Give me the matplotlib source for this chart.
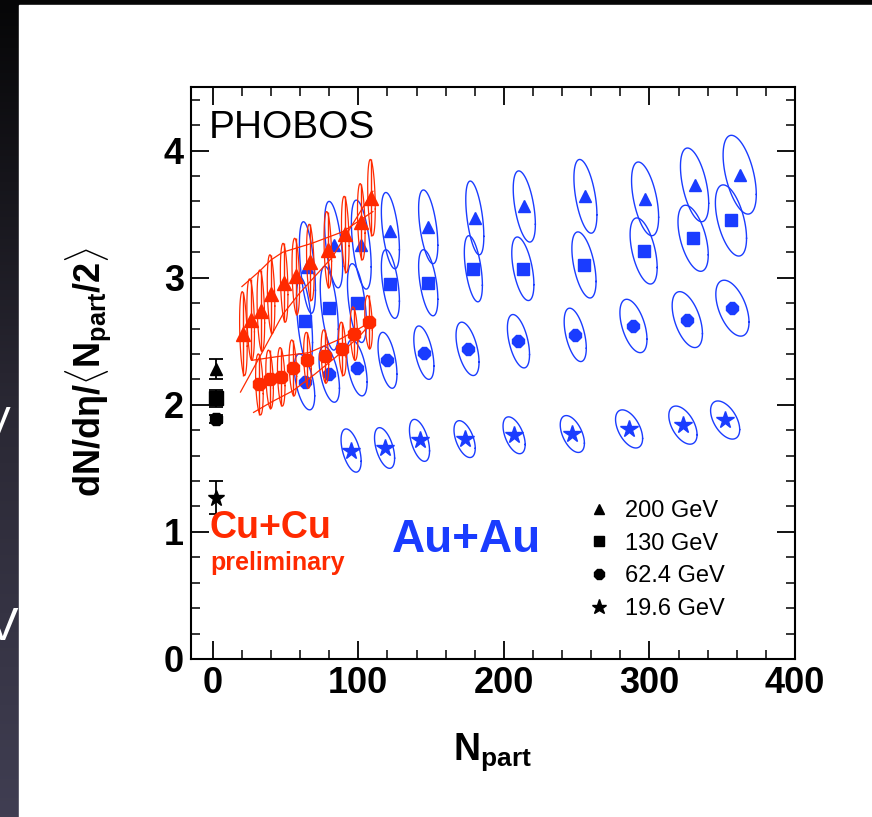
import matplotlib.pyplot as plt
import numpy as np
from matplotlib.colors import LinearSegmentedColormap
from matplotlib.lines import Line2D
from matplotlib.patches import Rectangle

plt.rcParams["font.family"] = ["Liberation Sans", "DejaVu Sans"]
plt.rcParams["mathtext.fontset"] = "custom"
plt.rcParams["mathtext.rm"] = "Liberation Sans"
plt.rcParams["mathtext.bf"] = "Liberation Sans:bold"
plt.rcParams["mathtext.it"] = "Liberation Sans:italic"

# --- Au+Au (PHOBOS): Npart, dN/deta/<Npart/2>, half sizes of the error ellipses ---
au200_npart = [65, 83, 102, 122, 148, 180, 214, 256, 297, 331, 362]
au200_val = [3.08, 3.26, 3.26, 3.37, 3.40, 3.47, 3.56, 3.64, 3.62, 3.73, 3.81]
au200_dn = [5.5, 6.2, 6.8, 6.2, 6.6, 6.2, 7.6, 7.9, 9.3, 9.7, 11.4]
au200_dv = [0.36, 0.34, 0.35, 0.30, 0.29, 0.29, 0.28, 0.29, 0.29, 0.29, 0.31]

au130_npart = [63, 80, 99, 122, 148, 179, 213, 255, 296, 330, 356]
au130_val = [2.66, 2.76, 2.80, 2.95, 2.96, 3.07, 3.07, 3.10, 3.21, 3.31, 3.45]
au130_dn = [5.5, 6.2, 6.5, 6.2, 6.6, 6.2, 7.6, 8.3, 9.3, 10.4, 10.7]
au130_dv = [0.34, 0.33, 0.31, 0.27, 0.26, 0.26, 0.25, 0.26, 0.26, 0.26, 0.28]

au62_npart = [63, 80, 99, 120, 145, 175, 210, 249, 289, 326, 357]
au62_val = [2.18, 2.24, 2.29, 2.35, 2.41, 2.44, 2.50, 2.55, 2.62, 2.67, 2.76]
au62_dn = [7.0, 7.0, 7.0, 6.5, 6.9, 7.9, 7.6, 7.6, 9.3, 10.4, 11.4]
au62_dv = [0.22, 0.22, 0.22, 0.22, 0.21, 0.21, 0.21, 0.21, 0.21, 0.22, 0.22]

au19_npart = [95, 118, 142, 173, 207, 247, 286, 323, 352]
au19_val = [1.64, 1.66, 1.72, 1.73, 1.76, 1.77, 1.81, 1.84, 1.88]
au19_dn = [6.9, 6.9, 6.9, 7.3, 7.6, 8.3, 9.3, 9.7, 10.0]
au19_dv = [0.17, 0.16, 0.165, 0.145, 0.145, 0.145, 0.15, 0.15, 0.15]

# --- Cu+Cu preliminary ---
cu200_npart = [21, 26, 33, 40, 49, 57, 67, 79, 91, 102, 109]
cu200_val = [2.56, 2.67, 2.74, 2.87, 2.96, 3.01, 3.12, 3.22, 3.34, 3.44, 3.63]
cu200_dv = [0.33, 0.32, 0.32, 0.31, 0.31, 0.30, 0.30, 0.30, 0.30, 0.30, 0.30]

cu62_npart = [32, 39, 47, 55, 65, 77, 89, 97, 107]
cu62_val = [2.16, 2.20, 2.22, 2.29, 2.35, 2.38, 2.44, 2.56, 2.65]
cu62_dv = [0.24, 0.23, 0.23, 0.22, 0.22, 0.21, 0.21, 0.21, 0.21]

# systematic band edges
cu200_hi_n = [20, 32, 40, 48, 68, 89, 110]
cu200_hi_v = [2.93, 3.05, 3.14, 3.20, 3.27, 3.36, 3.52]
cu200_lo_n = [19, 30, 48, 59, 82, 110]
cu200_lo_v = [2.10, 2.33, 2.71, 2.87, 3.16, 3.68]
cu62_hi_n = [27, 45, 66, 88, 110]
cu62_hi_v = [2.35, 2.38, 2.41, 2.52, 2.66]
cu62_lo_n = [28, 40, 55, 70, 85, 100, 110]
cu62_lo_v = [1.94, 2.02, 2.11, 2.24, 2.38, 2.53, 2.66]

# p+p / p+pbar references at Npart = 2
pp_npart = [2, 2, 2, 2]
pp_val = [2.28, 2.05, 1.89, 1.27]
pp_err = [0.08, 0.07, 0.03, 0.13]

energies = ["200 GeV", "130 GeV", "62.4 GeV", "19.6 GeV"]
markers = ["^", "s", "8", "*"]
msizes = [9, 9, 9, 13]

BLUE = "#1a3cff"
RED = "#ff2a00"

W, H = 872, 817


def px(x, y):
    return x / W, 1 - y / H


def corr_ellipse(ax, x0, y0, sx, sy, rho, **kw):
    t = np.linspace(0, 2 * np.pi, 80)
    xs = x0 + sx * np.cos(t)
    ys = y0 + sy * (rho * np.cos(t) + np.sqrt(1 - rho**2) * np.sin(t))
    ax.plot(xs, ys, **kw)


fig = plt.figure(figsize=(W / 100, H / 100), dpi=100)

# slide background: dark gradient with the white panel on top
bg = fig.add_axes([0, 0, 1, 1], zorder=-10)
grad = LinearSegmentedColormap.from_list("slide", ["#060607", "#2a2834", "#403e52"])
bg.imshow(np.linspace(0, 1, 256)[:, None], cmap=grad, aspect="auto", extent=[0, 1, 0, 1])
bg.text(-0.004, 1 - 425 / H, "V", color="white", fontsize=30, ha="center", va="center", zorder=2)
bg.text(0.003, 1 - 628 / H, "V", color="white", fontsize=34, ha="center", va="center", zorder=2)
bg.add_patch(Rectangle((19 / W, 0), 1, 1 - 5 / H, color="white", zorder=3))
bg.set_xlim(0, 1)
bg.set_ylim(0, 1)
bg.axis("off")

ax = fig.add_axes([191 / W, (H - 659) / H, 604 / W, 572 / H])
ax.set_facecolor("none")

# Au+Au ellipses and points
au_sets = [
    (au200_npart, au200_val, au200_dn, au200_dv),
    (au130_npart, au130_val, au130_dn, au130_dv),
    (au62_npart, au62_val, au62_dn, au62_dv),
    (au19_npart, au19_val, au19_dn, au19_dv),
]
for (n, v, dn, dv), m, ms in zip(au_sets, markers, msizes):
    for xi, yi, sx, sy in zip(n, v, dn, dv):
        corr_ellipse(ax, xi, yi, sx, sy, -0.5, color=BLUE, lw=1.0, zorder=2)
    ax.plot(n, v, ls="none", marker=m, ms=ms, color=BLUE, mec=BLUE, zorder=3)

# Cu+Cu bands, error shapes and points
for bn, bv in [(cu200_hi_n, cu200_hi_v), (cu200_lo_n, cu200_lo_v),
               (cu62_hi_n, cu62_hi_v), (cu62_lo_n, cu62_lo_v)]:
    ax.plot(bn, bv, color=RED, lw=0.9, zorder=4)

for n, v, dv, m in [(cu200_npart, cu200_val, cu200_dv, "^"), (cu62_npart, cu62_val, cu62_dv, "8")]:
    for xi, yi, sy in zip(n, v, dv):
        corr_ellipse(ax, xi, yi, 2.6, sy, -0.3, color=RED, lw=0.9, zorder=4)
    ax.errorbar(n, v, yerr=dv, fmt="none", ecolor=RED, elinewidth=1.0, zorder=4)
    ax.plot(n, v, ls="none", marker=m, ms=10, color=RED, mec=RED, zorder=5)

# p+p points
ax.errorbar(pp_npart, pp_val, yerr=pp_err, fmt="none", ecolor="black", elinewidth=1.3,
            capsize=5, capthick=1.3, zorder=5)
for xi, yi, m, ms in zip(pp_npart, pp_val, markers, [8, 10, 10, 12]):
    ax.plot(xi, yi, ls="none", marker=m, ms=ms, color="black", zorder=6)

ax.set_xlim(-15, 400)
ax.set_ylim(0, 4.5)
ax.set_xticks([0, 100, 200, 300, 400])
ax.set_xticks(np.arange(-0, 401, 20), minor=True)
ax.set_yticks([0, 1, 2, 3, 4])
ax.set_yticks(np.arange(0, 4.51, 0.2), minor=True)
ax.tick_params(which="both", direction="in", top=True, right=True, width=1.3)
ax.tick_params(which="major", length=13)
ax.tick_params(which="minor", length=6.5, width=1.1)
ax.tick_params(axis="x", pad=5)
ax.tick_params(axis="y", pad=5)
for lab in ax.get_xticklabels() + ax.get_yticklabels():
    lab.set_fontsize(26)
    lab.set_fontweight("bold")
for sp in ax.spines.values():
    sp.set_linewidth(1.5)

# legend
handles = [Line2D([], [], ls="none", marker=m, ms=s * 0.85, color="black") for m, s in zip(markers, msizes)]
ax.legend(handles, energies, loc="upper left", bbox_to_anchor=((587 - 191) / 604, (659 - 500) / 572),
          frameon=False, fontsize=17, handlelength=1.0, handletextpad=0.6, labelspacing=0.45,
          borderpad=0, borderaxespad=0)

# annotations
fig.text(*px(209, 138), "PHOBOS", fontsize=28, va="baseline")
fig.text(*px(209, 538), "Cu+Cu", fontsize=27, fontweight="bold", color=RED, va="baseline")
fig.text(*px(210, 570), "preliminary", fontsize=18, fontweight="bold", color=RED, va="baseline")
fig.text(*px(392, 552), "Au+Au", fontsize=33, fontweight="bold", color=BLUE, va="baseline")

fig.text(*px(492, 752), r"$\mathbf{N_{part}}$", fontsize=27, ha="center", va="center")
fig.text(*px(88, 372), r"$\mathbf{dN/d\eta/\langle N_{part}/2\rangle}$", fontsize=26,
         rotation=90, ha="center", va="center")

fig.savefig("out.png", dpi=100)
